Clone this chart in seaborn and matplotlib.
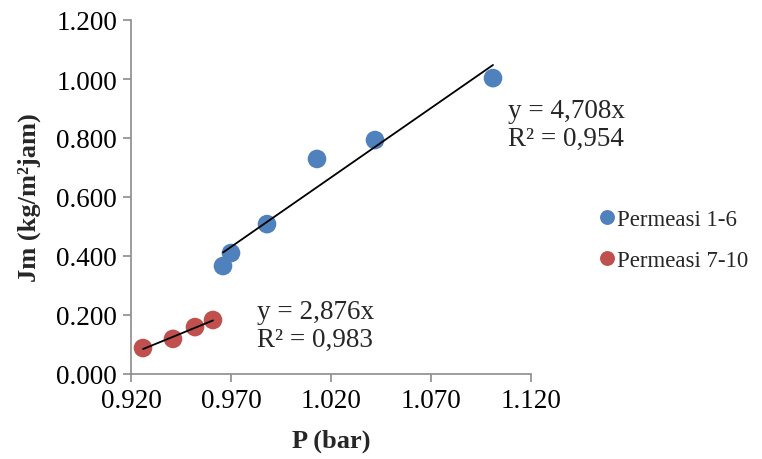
import matplotlib
matplotlib.use("Agg")
import matplotlib.pyplot as plt
import seaborn as sns
import pandas as pd
from matplotlib.ticker import FormatStrFormatter

# Data
p_blue = [0.966, 0.970, 0.988, 1.013, 1.042, 1.101]
jm_blue = [0.366, 0.410, 0.508, 0.729, 0.793, 1.003]
p_red = [0.926, 0.941, 0.952, 0.961]
jm_red = [0.088, 0.119, 0.159, 0.183]
series_names = ["Permeasi 1-6", "Permeasi 7-10"]
eq_blue = ["y = 4,708x", "R² = 0,954"]
eq_red = ["y = 2,876x", "R² = 0,983"]
x_ticks = [0.920, 0.970, 1.020, 1.070, 1.120]
y_ticks = [0.0, 0.2, 0.4, 0.6, 0.8, 1.0, 1.2]

df = pd.DataFrame({
    "P": p_blue + p_red,
    "Jm": jm_blue + jm_red,
    "Seri": [series_names[0]] * len(p_blue) + [series_names[1]] * len(p_red),
})

sns.set_style("white")
plt.rcParams["font.family"] = ["Liberation Serif", "DejaVu Serif"]

fig = plt.figure(figsize=(7.62, 4.60), dpi=100)
ax = fig.add_axes([131 / 762, 1 - 375 / 460, 400 / 762, 354 / 460])

palette = {series_names[0]: "#4F81BD", series_names[1]: "#C0504D"}
sns.scatterplot(data=df, x="P", y="Jm", hue="Seri", palette=palette, s=180,
                edgecolor="none", ax=ax, zorder=3)

sns.regplot(x=p_blue, y=jm_blue, scatter=False, ci=None, truncate=True,
            line_kws={"color": "black", "lw": 1.3, "zorder": 4}, ax=ax)
sns.regplot(x=p_red, y=jm_red, scatter=False, ci=None, truncate=True,
            line_kws={"color": "black", "lw": 1.3, "zorder": 4}, ax=ax)

ax.set_xlim(0.920, 1.120)
ax.set_ylim(0.0, 1.2)
ax.set_xticks(x_ticks)
ax.set_yticks(y_ticks)
ax.xaxis.set_major_formatter(FormatStrFormatter("%.3f"))
ax.yaxis.set_major_formatter(FormatStrFormatter("%.3f"))

for side in ["top", "right"]:
    ax.spines[side].set_visible(False)
for side in ["left", "bottom"]:
    ax.spines[side].set_color("#8c8c8c")
    ax.spines[side].set_linewidth(1.2)
ax.tick_params(axis="both", direction="out", length=6, width=1.2,
               color="#8c8c8c", labelsize=19.5, labelcolor="black",
               bottom=True, left=True, pad=4)
ax.grid(False)

ax.set_xlabel("P (bar)", fontsize=19, fontweight="bold", labelpad=11)
ax.set_ylabel("Jm (kg/m²jam)", fontsize=19, fontweight="bold", labelpad=11)

ax.text(1.1085, 0.847, eq_blue[0] + "\n" + eq_blue[1], fontsize=19.5,
        va="center", ha="left", linespacing=1.15)
ax.text(0.983, 0.164, eq_red[0] + "\n" + eq_red[1], fontsize=19.5,
        va="center", ha="left", linespacing=1.15)

leg = ax.legend(loc="center left", bbox_to_anchor=(598 / 762, 1 - 241 / 460),
                bbox_transform=fig.transFigure, frameon=False, fontsize=16.5,
                handlelength=0.8, handletextpad=0.05, labelspacing=0.85,
                borderpad=0, borderaxespad=0, markerscale=0.8)

fig.savefig("out.png", dpi=100, facecolor="white")
